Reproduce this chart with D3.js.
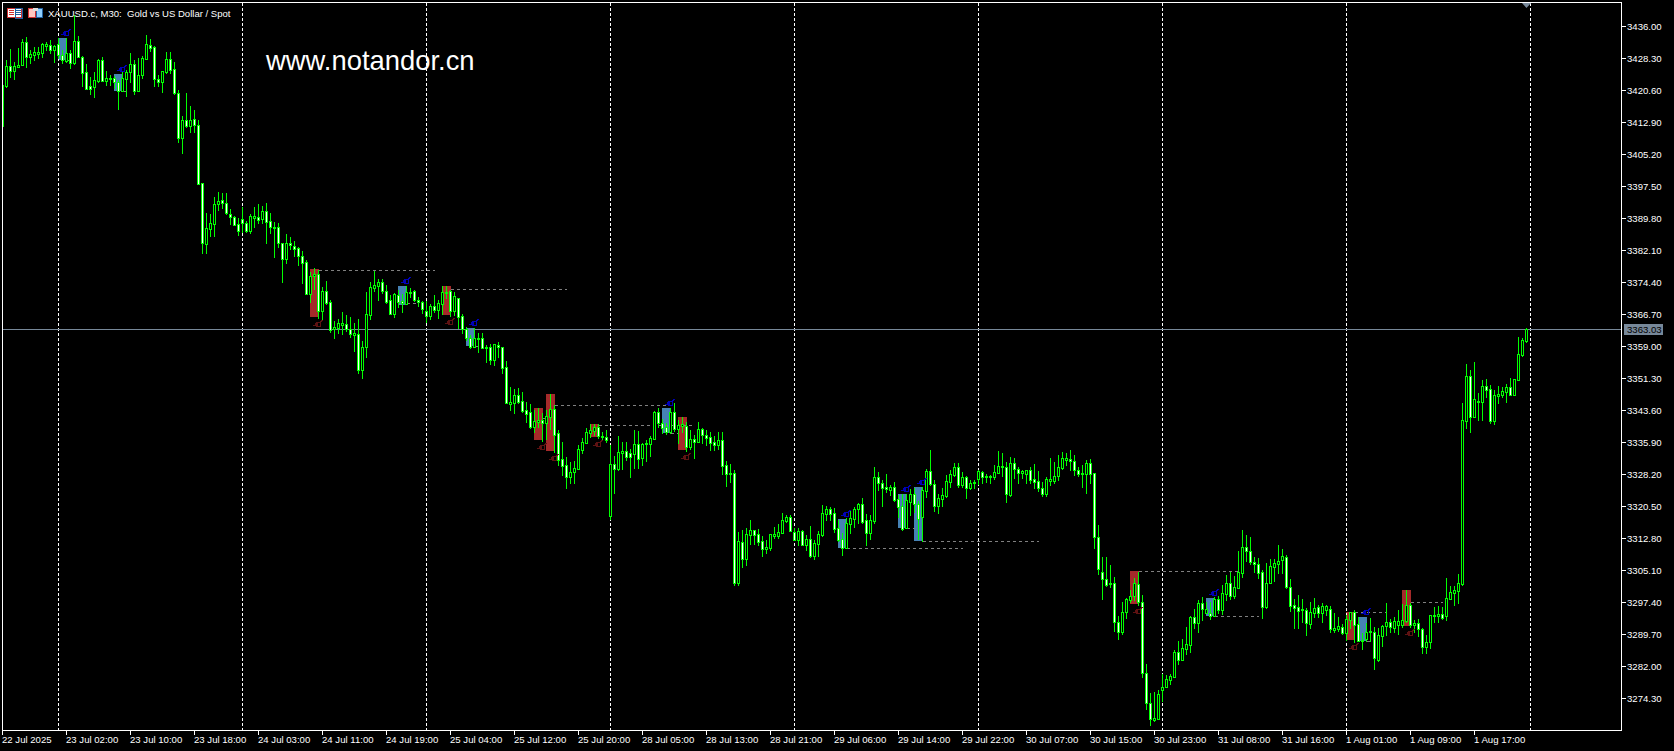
<!DOCTYPE html>
<html><head><meta charset="utf-8">
<script src="https://cdn.jsdelivr.net/npm/d3@7/dist/d3.min.js"></script>
<style>html,body{margin:0;padding:0;background:#000;overflow:hidden}svg{display:block}</style>
</head><body><svg id="c" width="1674" height="751"></svg>
<script>
const titleText = "XAUUSD.c, M30:  Gold vs US Dollar / Spot";
const watermark = "www.notandor.cn";
const lastPrice = 3363.03;
const priceTicks = [3436,3428.3,3420.6,3412.9,3405.2,3397.5,3389.8,3382.1,3374.4,3366.7,3359,3351.3,3343.6,3335.9,3328.2,3320.5,3312.8,3305.1,3297.4,3289.7,3282,3274.3];
const timeTickIdx = [0,16,32,48,64,80,96,112,128,144,160,176,192,208,224,240,256,272,288,304,320,336,352,368];
const timeLabels = ["22 Jul 2025","23 Jul 02:00","23 Jul 10:00","23 Jul 18:00","24 Jul 03:00","24 Jul 11:00","24 Jul 19:00","25 Jul 04:00","25 Jul 12:00","25 Jul 20:00","28 Jul 05:00","28 Jul 13:00","28 Jul 21:00","29 Jul 06:00","29 Jul 14:00","29 Jul 22:00","30 Jul 07:00","30 Jul 15:00","30 Jul 23:00","31 Jul 08:00","31 Jul 16:00","1 Aug 01:00","1 Aug 09:00","1 Aug 17:00"];
const daySepIdx = [14,60,106,152,198,244,290,336,382];

const highs = [
3421.8,3427.8,3430.5,3427.3,3430.7,3432.9,3433.4,3430.2,3431.0,3431.0,
3431.9,3432.2,3432.6,3431.4,3433.1,3430.2,3433.1,3430.2,3438.6,3433.6,
3428.8,3426.9,3423.7,3425.0,3428.1,3428.6,3425.2,3424.2,3424.0,3423.0,
3425.0,3425.4,3429.5,3427.8,3428.3,3428.8,3433.8,3432.9,3431.2,3424.2,
3425.2,3429.7,3429.7,3427.3,3420.6,3414.3,3419.9,3416.8,3415.8,3413.4,
3398.2,3391.0,3390.8,3394.9,3396.1,3395.8,3395.8,3392.0,3390.3,3389.8,
3392.4,3389.1,3390.8,3392.4,3393.2,3392.7,3393.4,3391.0,3388.8,3388.6,
3383.8,3385.9,3385.2,3384.3,3382.8,3381.9,3379.7,3376.8,3377.8,3377.3,
3373.2,3374.6,3370.1,3365.0,3365.5,3367.2,3366.5,3366.0,3364.5,3365.5,
3360.2,3372.0,3374.4,3377.0,3375.1,3375.1,3373.7,3371.3,3371.8,3372.5,
3371.5,3373.4,3372.9,3372.5,3370.8,3369.8,3369.8,3369.1,3371.3,3370.1,
3373.4,3373.4,3372.5,3372.0,3370.6,3366.7,3363.6,3361.7,3363.3,3362.1,
3362.1,3359.2,3359.5,3359.5,3360.0,3358.8,3355.4,3349.1,3348.7,3348.9,
3347.9,3345.5,3345.0,3343.6,3344.1,3342.9,3343.6,3347.5,3344.8,3338.8,
3335.9,3332.3,3331.1,3331.3,3335.2,3336.9,3339.3,3340.2,3340.2,3340.2,
3338.3,3338.8,3335.2,3332.5,3337.4,3335.9,3335.9,3334.2,3338.8,3338.5,
3335.7,3336.4,3337.4,3343.4,3344.1,3341.4,3340.5,3344.1,3345.3,3341.2,
3341.9,3340.7,3338.8,3337.6,3340.7,3339.3,3338.8,3338.3,3337.4,3338.3,
3338.3,3331.3,3330.6,3329.2,3314.2,3314.7,3315.2,3317.1,3314.7,3314.9,
3313.3,3312.3,3313.8,3315.5,3316.2,3318.8,3318.3,3318.3,3315.2,3315.2,
3314.7,3313.5,3315.7,3312.3,3314.5,3320.7,3320.5,3320.3,3320.0,3317.1,
3314.0,3317.6,3319.6,3320.3,3321.2,3322.4,3318.6,3318.3,3329.9,3328.7,
3326.8,3328.2,3325.6,3326.3,3323.2,3323.4,3323.4,3324.6,3324.8,3321.7,
3325.1,3329.4,3334.0,3326.8,3323.4,3324.8,3328.0,3329.2,3330.8,3330.8,
3328.7,3327.7,3326.8,3326.8,3329.2,3328.9,3328.2,3328.0,3330.4,3333.7,
3333.3,3331.1,3332.3,3332.0,3329.9,3329.2,3329.2,3329.9,3330.6,3328.9,
3326.3,3327.5,3332.0,3331.1,3332.8,3333.5,3333.3,3334.0,3332.8,3329.9,
3330.4,3331.6,3331.8,3328.4,3315.9,3308.2,3308.2,3306.3,3303.4,3294.1,
3297.4,3298.4,3300.3,3303.2,3304.6,3299.1,3282.5,3275.5,3275.8,3276.2,
3280.1,3279.8,3280.1,3285.9,3288.0,3288.5,3291.4,3294.0,3295.7,3297.9,
3298.6,3297.4,3297.4,3298.6,3298.8,3301.5,3303.9,3304.6,3303.7,3309.7,
3314.7,3313.5,3313.0,3308.2,3308.0,3305.1,3306.8,3307.8,3307.8,3311.1,
3310.2,3308.7,3302.9,3298.1,3299.1,3298.1,3296.0,3297.4,3298.4,3296.7,
3297.2,3296.7,3296.4,3294.8,3293.8,3292.1,3294.3,3295.0,3295.5,3293.8,
3289.9,3292.3,3293.5,3291.4,3291.1,3291.9,3297.2,3293.3,3293.8,3295.5,
3296.9,3300.3,3297.2,3293.1,3293.3,3291.1,3289.5,3294.3,3296.2,3296.4,
3296.2,3303.2,3301.3,3301.3,3304.1,3345.3,3354.7,3353.2,3355.2,3347.7,
3350.8,3351.1,3349.6,3348.4,3349.4,3349.1,3349.9,3351.3,3351.1,3361.2,
3361.0,3363.3];

const lows = [
3411.9,3421.3,3423.7,3423.2,3426.1,3426.6,3426.1,3427.1,3427.8,3428.3,
3428.6,3430.2,3429.5,3427.3,3428.3,3427.1,3427.3,3425.9,3426.9,3428.6,
3421.6,3420.8,3419.6,3418.9,3422.5,3422.8,3421.8,3421.8,3421.1,3416.0,
3420.4,3419.2,3422.5,3419.6,3420.4,3423.5,3428.1,3430.0,3421.6,3421.6,
3420.1,3424.7,3424.7,3419.6,3408.1,3405.4,3411.7,3410.5,3410.5,3398.0,
3381.4,3381.4,3385.5,3385.5,3391.7,3392.2,3390.8,3388.4,3388.1,3385.7,
3386.4,3386.4,3386.2,3387.6,3388.6,3388.6,3383.8,3386.2,3380.4,3382.8,
3374.4,3379.0,3382.3,3380.7,3378.5,3374.2,3371.5,3369.6,3372.7,3365.7,
3365.5,3369.1,3362.4,3360.9,3362.1,3361.9,3362.6,3361.2,3357.8,3352.5,
3351.3,3356.4,3365.5,3372.2,3370.1,3371.8,3369.4,3366.7,3366.0,3368.4,
3367.2,3369.1,3370.8,3369.8,3368.6,3366.9,3364.8,3365.5,3367.2,3365.7,
3366.7,3370.6,3366.2,3366.5,3363.3,3362.1,3360.4,3358.5,3358.8,3357.6,
3358.5,3355.2,3354.7,3354.4,3356.4,3352.5,3345.3,3343.6,3342.9,3345.3,
3343.1,3340.7,3339.3,3338.3,3339.5,3336.1,3336.6,3339.0,3333.5,3330.4,
3328.0,3324.8,3326.0,3326.0,3329.4,3333.3,3335.7,3337.1,3337.6,3336.9,
3336.6,3335.9,3317.4,3323.6,3329.2,3329.4,3331.6,3327.5,3329.7,3329.7,
3330.4,3331.3,3332.5,3336.6,3339.5,3338.1,3337.8,3338.1,3338.5,3335.7,
3338.3,3333.7,3334.2,3332.0,3335.9,3335.7,3335.2,3334.0,3334.0,3334.2,
3328.2,3325.3,3326.3,3301.5,3301.5,3305.8,3306.3,3311.3,3311.3,3311.1,
3308.5,3309.2,3309.9,3312.8,3312.8,3314.0,3316.7,3314.5,3312.3,3311.1,
3311.1,3309.9,3308.2,3307.8,3308.5,3313.3,3317.1,3317.1,3314.2,3312.1,
3308.7,3310.4,3314.0,3315.5,3316.4,3316.4,3311.1,3312.6,3316.4,3324.3,
3320.5,3323.9,3323.2,3321.7,3317.9,3314.7,3315.2,3318.3,3319.1,3312.6,
3312.1,3322.7,3325.6,3319.3,3318.8,3320.5,3322.7,3325.1,3327.7,3325.1,
3325.1,3322.4,3324.6,3324.8,3325.8,3326.0,3326.3,3326.0,3327.0,3328.4,
3327.7,3321.5,3322.9,3327.2,3326.0,3327.2,3326.0,3326.0,3324.8,3324.1,
3322.9,3322.9,3325.6,3326.0,3326.8,3329.4,3330.4,3329.2,3328.0,3327.7,
3325.1,3323.6,3326.0,3310.4,3304.1,3298.1,3301.2,3301.0,3290.4,3288.5,
3289.7,3293.5,3297.4,3297.9,3296.7,3279.4,3271.6,3267.8,3268.7,3269.2,
3273.6,3276.9,3277.6,3279.4,3282.5,3283.4,3284.9,3285.4,3291.1,3290.2,
3293.1,3294.8,3293.3,3294.0,3294.8,3294.5,3297.9,3298.1,3298.4,3300.8,
3303.4,3307.3,3306.5,3304.6,3303.2,3293.5,3296.0,3301.9,3302.4,3304.4,
3304.4,3300.8,3295.2,3291.1,3291.1,3292.6,3289.5,3291.1,3293.8,3293.8,
3292.6,3294.3,3290.2,3290.2,3290.4,3289.7,3288.3,3291.1,3287.8,3288.0,
3286.1,3288.0,3288.0,3281.3,3283.2,3286.8,3289.5,3290.2,3290.2,3289.7,
3291.4,3292.6,3291.4,3290.2,3289.2,3285.1,3285.1,3286.3,3292.6,3292.6,
3293.3,3293.1,3298.1,3296.7,3297.2,3301.5,3339.3,3338.3,3341.9,3341.2,
3341.2,3346.7,3340.5,3340.2,3345.3,3346.7,3345.5,3347.2,3347.2,3350.8,
3356.6,3360.0];

const opens = [
3411.9,3421.6,3426.4,3425.2,3426.1,3426.6,3432.2,3428.6,3429.0,3429.3,
3429.5,3431.2,3431.4,3430.2,3431.7,3429.0,3427.6,3429.5,3427.1,3432.4,
3428.6,3424.9,3421.6,3421.3,3422.8,3427.8,3422.8,3423.2,3423.5,3422.5,
3420.4,3423.2,3425.0,3426.9,3420.4,3424.2,3428.1,3431.4,3430.9,3423.2,
3422.5,3424.9,3428.1,3425.7,3419.9,3409.1,3413.4,3411.9,3413.6,3412.2,
3398.2,3383.5,3387.2,3388.4,3393.2,3394.1,3393.4,3390.8,3390.0,3388.4,
3389.6,3388.6,3386.7,3389.8,3390.0,3389.6,3391.5,3389.1,3387.4,3387.6,
3383.8,3379.9,3383.8,3383.1,3382.6,3380.7,3379.2,3371.5,3375.8,3376.3,
3367.4,3372.2,3369.6,3363.1,3363.3,3364.1,3364.3,3363.1,3361.7,3361.9,
3353.2,3358.8,3366.5,3372.9,3373.4,3374.4,3372.2,3370.1,3366.7,3371.3,
3369.8,3369.1,3371.8,3372.2,3370.1,3369.6,3367.4,3366.2,3368.6,3367.7,
3369.1,3371.8,3372.2,3367.4,3370.6,3366.2,3363.1,3360.9,3358.8,3360.7,
3360.9,3358.5,3358.8,3355.6,3359.2,3358.8,3353.9,3345.0,3345.3,3347.2,
3345.8,3343.6,3343.1,3339.5,3340.7,3341.2,3340.5,3341.9,3343.8,3338.1,
3331.8,3330.4,3327.5,3328.7,3329.4,3334.0,3335.7,3338.1,3338.5,3339.5,
3337.1,3337.1,3318.1,3330.6,3329.4,3333.3,3333.7,3333.3,3333.0,3335.4,
3332.0,3335.4,3335.4,3336.6,3343.1,3340.5,3339.5,3338.3,3343.1,3339.0,
3339.8,3339.8,3334.7,3336.6,3335.9,3339.0,3337.6,3337.1,3335.9,3335.2,
3336.4,3330.4,3328.2,3328.4,3302.0,3311.8,3307.8,3313.5,3314.7,3313.8,
3312.1,3310.2,3310.4,3313.3,3313.3,3314.0,3316.9,3317.9,3314.2,3312.3,
3314.5,3311.1,3312.6,3308.5,3311.3,3313.5,3318.6,3319.8,3318.8,3315.2,
3312.6,3310.4,3316.2,3317.4,3319.8,3321.0,3317.1,3314.0,3316.9,3327.5,
3326.0,3325.1,3324.4,3325.1,3322.2,3320.5,3315.2,3321.5,3323.4,3321.0,
3317.9,3324.1,3328.9,3325.8,3320.5,3322.2,3322.9,3326.3,3328.0,3329.9,
3325.6,3327.5,3324.8,3326.0,3327.0,3328.7,3327.5,3327.5,3327.5,3328.4,
3329.9,3329.9,3323.2,3330.8,3329.4,3328.4,3328.2,3329.2,3327.0,3326.5,
3324.8,3323.4,3326.5,3326.5,3327.7,3329.6,3331.6,3331.8,3331.3,3329.2,
3328.2,3328.2,3330.8,3328.4,3313.0,3304.6,3302.9,3301.7,3302.0,3292.6,
3290.2,3295.0,3297.9,3298.8,3301.7,3297.4,3280.3,3273.1,3269.0,3269.2,
3276.2,3276.9,3278.6,3279.3,3285.4,3283.4,3286.1,3287.1,3293.8,3292.3,
3297.2,3294.8,3294.8,3294.0,3298.1,3295.5,3299.3,3302.0,3298.8,3300.8,
3304.4,3310.6,3309.7,3307.0,3306.5,3304.6,3296.2,3302.0,3305.8,3306.5,
3307.5,3308.2,3301.0,3296.7,3296.2,3295.5,3295.5,3292.1,3294.8,3296.2,
3294.8,3295.5,3295.7,3290.7,3290.9,3291.4,3290.0,3293.1,3295.0,3292.1,
3288.0,3288.5,3290.2,3290.2,3283.4,3289.2,3291.6,3292.6,3291.1,3291.9,
3291.9,3292.8,3296.7,3291.9,3292.4,3290.9,3286.6,3287.8,3294.0,3294.0,
3294.5,3294.0,3298.1,3299.6,3300.1,3301.7,3340.9,3351.8,3341.9,3345.5,
3345.5,3349.4,3348.7,3340.9,3346.9,3347.2,3347.9,3349.1,3347.2,3350.8,
3356.8,3360.2];

const closes = [
3421.8,3426.4,3425.2,3426.4,3426.6,3432.2,3428.6,3429.3,3429.7,3429.7,
3431.7,3431.7,3430.2,3431.2,3429.0,3427.8,3429.5,3427.1,3432.4,3428.6,
3424.7,3420.8,3420.8,3423.0,3427.8,3422.8,3423.5,3423.5,3422.5,3420.4,
3423.5,3425.0,3426.9,3420.4,3424.2,3428.3,3431.7,3430.7,3423.2,3422.5,
3425.2,3428.1,3425.4,3419.9,3409.1,3413.4,3411.9,3413.4,3412.2,3398.0,
3383.8,3387.4,3388.6,3393.2,3393.9,3393.4,3391.0,3390.0,3388.1,3386.7,
3388.6,3386.7,3390.3,3390.3,3389.3,3391.5,3388.8,3387.6,3387.6,3383.8,
3379.9,3383.8,3383.3,3382.3,3380.7,3379.0,3371.5,3375.8,3376.3,3367.4,
3372.2,3369.4,3362.9,3363.6,3364.5,3364.5,3363.1,3361.9,3362.1,3353.2,
3358.8,3366.7,3373.2,3373.7,3374.4,3372.2,3369.6,3366.7,3371.5,3369.6,
3369.4,3372.0,3372.0,3370.1,3369.6,3367.9,3366.2,3368.6,3367.7,3369.4,
3372.0,3372.0,3367.4,3371.0,3366.0,3363.1,3360.9,3358.8,3360.9,3360.9,
3358.5,3358.8,3355.6,3359.5,3358.8,3353.7,3345.3,3345.5,3347.2,3345.5,
3343.4,3342.6,3339.5,3340.9,3341.2,3340.5,3342.2,3343.8,3337.6,3331.6,
3330.1,3327.5,3328.7,3329.6,3334.2,3335.9,3338.3,3338.8,3339.5,3337.3,
3337.3,3336.4,3330.6,3329.4,3333.5,3333.7,3332.3,3332.3,3335.4,3331.8,
3335.4,3335.7,3336.9,3343.1,3340.5,3339.3,3338.3,3343.1,3339.0,3340.0,
3340.2,3334.7,3336.6,3335.9,3339.0,3337.6,3336.9,3335.7,3335.2,3336.4,
3330.1,3328.2,3328.4,3302.0,3312.1,3307.8,3313.8,3314.7,3313.5,3311.8,
3310.2,3310.6,3313.8,3313.8,3314.2,3317.1,3317.9,3314.5,3312.3,3314.5,
3311.1,3312.6,3308.5,3311.6,3313.8,3318.8,3319.8,3318.6,3314.9,3312.3,
3310.4,3316.4,3317.6,3319.8,3321.0,3316.7,3314.0,3317.1,3327.5,3326.0,
3324.8,3324.6,3325.1,3321.9,3320.3,3315.0,3321.9,3323.4,3321.0,3317.4,
3324.3,3328.9,3325.8,3320.5,3322.4,3323.2,3326.5,3328.2,3329.9,3325.6,
3327.5,3324.8,3326.0,3326.3,3328.9,3327.5,3327.7,3327.7,3328.7,3330.1,
3330.1,3323.4,3330.8,3329.4,3328.4,3328.9,3329.2,3326.8,3326.3,3324.8,
3323.4,3327.0,3327.0,3327.7,3329.9,3332.0,3332.0,3331.3,3329.2,3328.2,
3328.4,3330.8,3328.2,3313.0,3305.3,3302.9,3301.5,3302.0,3292.6,3290.2,
3295.0,3298.1,3298.8,3302.0,3297.4,3280.3,3273.1,3269.2,3269.5,3275.3,
3276.9,3278.9,3279.6,3285.4,3283.4,3286.3,3287.3,3293.8,3292.3,3297.2,
3295.7,3295.7,3294.0,3298.1,3295.5,3299.6,3302.0,3298.8,3301.0,3304.6,
3310.6,3309.7,3307.0,3306.5,3304.4,3296.2,3302.0,3306.1,3306.8,3307.3,
3308.5,3301.0,3296.4,3296.0,3295.2,3295.7,3292.3,3295.0,3296.0,3294.8,
3296.4,3296.4,3290.9,3291.1,3291.6,3290.0,3293.3,3295.0,3291.9,3288.0,
3288.3,3290.2,3290.4,3283.9,3289.5,3291.6,3292.6,3291.4,3292.8,3292.8,
3293.1,3296.7,3291.9,3292.4,3290.9,3286.6,3287.8,3294.3,3294.3,3294.5,
3293.6,3298.4,3299.8,3300.3,3302.0,3341.2,3351.8,3341.9,3346.2,3345.8,
3349.4,3348.4,3340.9,3347.2,3347.4,3348.2,3349.1,3347.2,3351.1,3357.1,
3360.4,3363.0];

// Highlighted zones: candle range, price range, dashed level
const zoneKind  = ["b","b","r","b","r","b","r","r","r","b","r","b","b","b","r","b","r","b","r"];
const zoneFrom  = [14,28,77,99,110,116,133,136,147,165,169,209,224,228,282,301,336,339,350];
const zoneTo    = [16,30,79,101,112,118,135,138,149,167,171,211,226,230,284,303,338,341,352];
const zoneTop   = [3433.1,3424.5,3377.5,3373.4,3373.4,3363.3,3344.1,3347.5,3340.2,3344.1,3341.9,3317.4,3323.4,3325.1,3304.9,3298.4,3295.0,3293.8,3300.3];
const zoneBot   = [3427.8,3420.4,3366.0,3368.9,3366.5,3359.0,3336.4,3333.7,3337.1,3338.1,3334.0,3310.4,3315.2,3312.1,3296.9,3294.0,3288.3,3288.0,3291.6];
const levelVal  = [3427.8,3420.4,3377.3,3369.4,3372.7,3359.0,3341.7,3344.8,3340.0,3338.1,3341.9,3310.4,3315.2,3312.1,3304.9,3294.0,3295.0,3288.0,3297.4];
const levelEnd  = [17,31,108,104,141,119,136,168,173,169,171,240,228,259,309,314,346,343,360];

const svg = d3.select("#c");
svg.append("rect").attr("width",1674).attr("height",751).attr("fill","#000");
const x = d3.scaleLinear().domain([0,381]).range([2.5,1526.5]);
const y = d3.scaleLinear().domain([3274.3,3436]).range([698,26]);
const py = v => Math.round(y(v));
const FONT = "'Liberation Sans',sans-serif";

svg.append("defs").append("clipPath").attr("id","plot").append("rect").attr("x",3).attr("y",3).attr("width",1618).attr("height",727);
const plot = svg.append("g").attr("clip-path","url(#plot)").attr("shape-rendering","crispEdges");

// highlighted zones
plot.selectAll("rect.zone").data(d3.range(zoneKind.length)).join("rect").attr("class","zone")
  .attr("x",i=>x(zoneFrom[i])-0.5).attr("width",i=>x(zoneTo[i])-x(zoneFrom[i])+1)
  .attr("y",i=>py(zoneTop[i])).attr("height",i=>py(zoneBot[i])-py(zoneTop[i]))
  .attr("fill",i=>zoneKind[i]==="b"?"#4682B4":"#A52A2A");

// dashed day separators
plot.selectAll("line.sep").data(daySepIdx).join("line").attr("class","sep")
  .attr("x1",d=>x(d)).attr("x2",d=>x(d)).attr("y1",3).attr("y2",730)
  .attr("stroke","#fff").attr("stroke-dasharray","3,2");

// dashed levels
plot.selectAll("line.lvl").data(d3.range(zoneKind.length)).join("line").attr("class","lvl")
  .attr("x1",i=>x(zoneTo[i])).attr("x2",i=>x(levelEnd[i]))
  .attr("y1",i=>py(levelVal[i])+0.5).attr("y2",i=>py(levelVal[i])+0.5)
  .attr("stroke","#808080").attr("stroke-dasharray","3,3");

// last-price line
plot.append("line").attr("x1",3).attr("x2",1621).attr("y1",py(lastPrice)+0.5).attr("y2",py(lastPrice)+0.5).attr("stroke","#778899");

// candles
const idx = d3.range(highs.length);
plot.selectAll("rect.wick").data(idx).join("rect").attr("class","wick")
  .attr("x",i=>x(i)-0.5).attr("width",1)
  .attr("y",i=>py(highs[i])).attr("height",i=>py(lows[i])-py(highs[i])+1).attr("fill","#00FF00");
plot.selectAll("rect.body").data(idx).join("rect").attr("class","body")
  .attr("x",i=>x(i)-1.5).attr("width",3)
  .attr("y",i=>py(Math.max(opens[i],closes[i])))
  .attr("height",i=>Math.abs(py(opens[i])-py(closes[i]))+1).attr("fill","#00FF00");
plot.selectAll("rect.fill").data(idx.filter(i=>Math.abs(py(opens[i])-py(closes[i]))>=2)).join("rect").attr("class","fill")
  .attr("x",i=>x(i)-0.5).attr("width",1)
  .attr("y",i=>py(Math.max(opens[i],closes[i]))+1)
  .attr("height",i=>Math.abs(py(opens[i])-py(closes[i]))-1)
  .attr("fill",i=>closes[i]>=opens[i]?"#000":"#fff");

// zone marks
const marks = plot.selectAll("g.mark").data(d3.range(zoneKind.length)).join("g").attr("class","mark")
  .attr("transform",i=>{
    const b = zoneKind[i]==="b";
    return `translate(${x(zoneTo[i])-0.5},${b?py(zoneTop[i])-5:py(zoneBot[i])+7})`;
  });
marks.append("path").attr("d","M-5,1H-2M-2,-2H2V2H-2ZM2,-2L5,-4")
  .attr("fill","none").attr("stroke",i=>zoneKind[i]==="b"?"#0000B8":"#5E1212").attr("stroke-width",1);
marks.append("rect").attr("x",-3).attr("y",-1).attr("width",3).attr("height",3)
  .attr("fill",i=>zoneKind[i]==="b"?"#0000B8":"#5E1212");

// frame
const frame = svg.append("g").attr("shape-rendering","crispEdges").attr("stroke","#fff");
frame.append("line").attr("x1",2.5).attr("x2",2.5).attr("y1",2).attr("y2",735);
frame.append("line").attr("x1",2).attr("x2",1622).attr("y1",2.5).attr("y2",2.5);
frame.append("line").attr("x1",1621.5).attr("x2",1621.5).attr("y1",2).attr("y2",731);
frame.append("line").attr("x1",2).attr("x2",1622).attr("y1",730.5).attr("y2",730.5);

// price axis
const axR = svg.append("g").attr("transform","translate(1622,0)")
  .call(d3.axisRight(y).tickValues(priceTicks).tickFormat(d3.format(".2f")).tickSize(4).tickPadding(1));
axR.select(".domain").remove();
axR.selectAll("line").attr("stroke","#fff").attr("shape-rendering","crispEdges");
axR.selectAll("text").attr("fill","#fff").attr("font-family",FONT).attr("font-size",9.6);

// time axis
const axB = svg.append("g").attr("transform","translate(0,731)")
  .call(d3.axisBottom(x).tickValues(timeTickIdx).tickFormat((d,i)=>timeLabels[i]).tickSize(4).tickPadding(1).offset(0));
axB.select(".domain").remove();
axB.selectAll("line").attr("stroke","#fff").attr("shape-rendering","crispEdges");
axB.selectAll("text").attr("fill","#fff").attr("font-family",FONT).attr("font-size",9.6).attr("text-anchor","start").attr("x",-0.5);

// last price label
svg.append("rect").attr("x",1624).attr("y",py(lastPrice)-5).attr("width",39).attr("height",11).attr("fill","#778899");
svg.append("text").attr("x",1627).attr("y",py(lastPrice)+4).attr("fill","#000").attr("font-family",FONT).attr("font-size",9.6).text(d3.format(".2f")(lastPrice));

// shift marker
svg.append("path").attr("d",`M${x(381)-4.5},3H${x(381)+4.5}L${x(381)},8Z`).attr("fill","#778899");

// title icons
const ic = svg.append("g").attr("shape-rendering","crispEdges");
ic.append("rect").attr("x",7.5).attr("y",8.5).attr("width",14).attr("height",9).attr("fill","#fff").attr("stroke","#D03030");
ic.append("rect").attr("x",15).attr("y",8).attr("width",7).attr("height",10).attr("fill","none").attr("stroke","#2060A0");
[10,12,14].forEach(t=>{
  ic.append("rect").attr("x",9).attr("y",t).attr("width",5).attr("height",1).attr("fill","#D03030");
  ic.append("rect").attr("x",16).attr("y",t).attr("width",5).attr("height",1).attr("fill","#2060A0");
});
ic.append("rect").attr("x",28.5).attr("y",8.5).attr("width",7).attr("height",9).attr("fill","#FFC8C0").attr("stroke","#D03030");
ic.append("rect").attr("x",36.5).attr("y",8.5).attr("width",6).attr("height",9).attr("fill","#90D0FF").attr("stroke","#2060A0");
ic.append("rect").attr("x",33).attr("y",8).attr("width",5).attr("height",3).attr("fill","#ddd");

// title + watermark
svg.append("text").attr("x",48).attr("y",17).attr("fill","#fff").attr("font-family",FONT).attr("font-size",9.55).attr("xml:space","preserve").style("white-space","pre").text(titleText);
svg.append("text").attr("x",266).attr("y",70).attr("fill","#fff").attr("font-family",FONT).attr("font-size",27.4).text(watermark);
</script></body></html>
